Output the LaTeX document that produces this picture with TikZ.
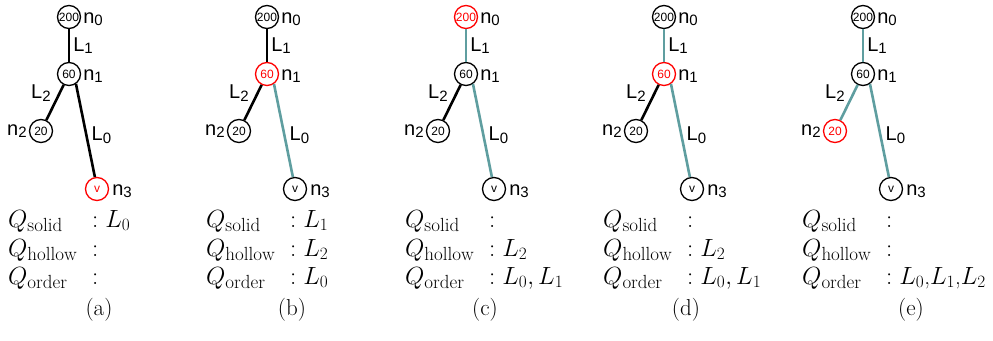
\documentclass[tikz,border=0pt]{standalone}
\usepackage{fontspec}
\newfontfamily\labfont{Liberation Sans}
\usetikzlibrary{positioning}
\DeclareMathSizes{23}{23}{19}{14}
\definecolor{done}{RGB}{95,158,160}
\newcommand\lsub[1]{\raisebox{-2.5pt}{\fontsize{15}{15}\selectfont#1}}
\tikzset{
  vtx/.style={draw=#1,text=#1,circle,line width=1.3pt,minimum size=23pt,inner sep=0pt,
    font=\labfont\fontsize{12}{12}\selectfont},
  lnk/.style={draw=#1,line width=2.6pt},
  lab/.style={inner sep=0pt,font=\labfont\fontsize{20}{20}\selectfont},
  txt/.style={inner sep=0pt,anchor=base west,font=\fontsize{23}{27}\selectfont}
}

\begin{document}
\begin{tikzpicture}[x=1pt,y=-1pt]
\useasboundingbox (0,0) rectangle (993,340);
\foreach \i/\px/\ca/\cb/\cc/\cd/\ea/\eb/\ec/\qs/\qh/\qo/\cx in {
  a/69/black/black/black/red/black/black/black/{$L_0$}/{}/{}/99,
  b/267/black/red/black/black/black/black/done/{$L_1$}/{$L_2$}/{$L_0$}/292,
  c/466/red/black/black/black/done/black/done/{}/{$L_2$}/{$L_0, L_1$}/485,
  d/664/black/red/black/black/done/black/done/{}/{$L_2$}/{$L_0, L_1$}/686,
  e/863/black/black/red/black/done/done/done/{}/{}/{$L_0$,$L_1$,$L_2$}/911}{
  % tree
  \node[vtx=\ca] (n0-\i) at (\px,17) {200};
  \node[vtx=\cb] (n1-\i) at (\px,74) {60};
  \node[vtx=\cc] (n2-\i) at (\px-28,131) {20};
  \node[vtx=\cd] (n3-\i) at (\px+28,189) {v};
  \node[lab,right=2pt of n0-\i,yshift=-2pt] (t0-\i) {n\lsub{0}};
  \node[lab,right=2pt of n1-\i,yshift=-2pt] (t1-\i) {n\lsub{1}};
  \node[lab,left=2pt of n2-\i] (t2-\i) {n\lsub{2}};
  \node[lab,right=3pt of n3-\i,yshift=-2pt] (t3-\i) {n\lsub{3}};
  \draw[lnk=\ea] (n0-\i) -- (n1-\i) node[lab,midway,right=3pt] (l1-\i) {L\lsub{1}};
  \draw[lnk=\eb] (n1-\i) -- (n2-\i) node[lab,midway,anchor=south east,xshift=-3pt] (l2-\i) {L\lsub{2}};
  \draw[lnk=\ec] (n1-\i.-55) -- (n3-\i.100) node[lab,pos=0.55,anchor=west,xshift=4pt] (l0-\i) {L\lsub{0}};
  % queues
  \node[txt] (qs-\i) at (\px-61,227) {$Q_{\mathrm{solid}}$};
  \node[txt] (qh-\i) at (\px-61,256) {$Q_{\mathrm{hollow}}$};
  \node[txt] (qo-\i) at (\px-61,284) {$Q_{\mathrm{order}}$};
  \node[txt] (vs-\i) at (\px+23,227) {$:$ \qs};
  \node[txt] (vh-\i) at (\px+23,256) {$:$ \qh};
  \node[txt] (vo-\i) at (\px+23,284) {$:$ \qo};
  \node[txt,anchor=base] (cap-\i) at (\cx,315) {(\i)};
}
\end{tikzpicture}
\end{document}
